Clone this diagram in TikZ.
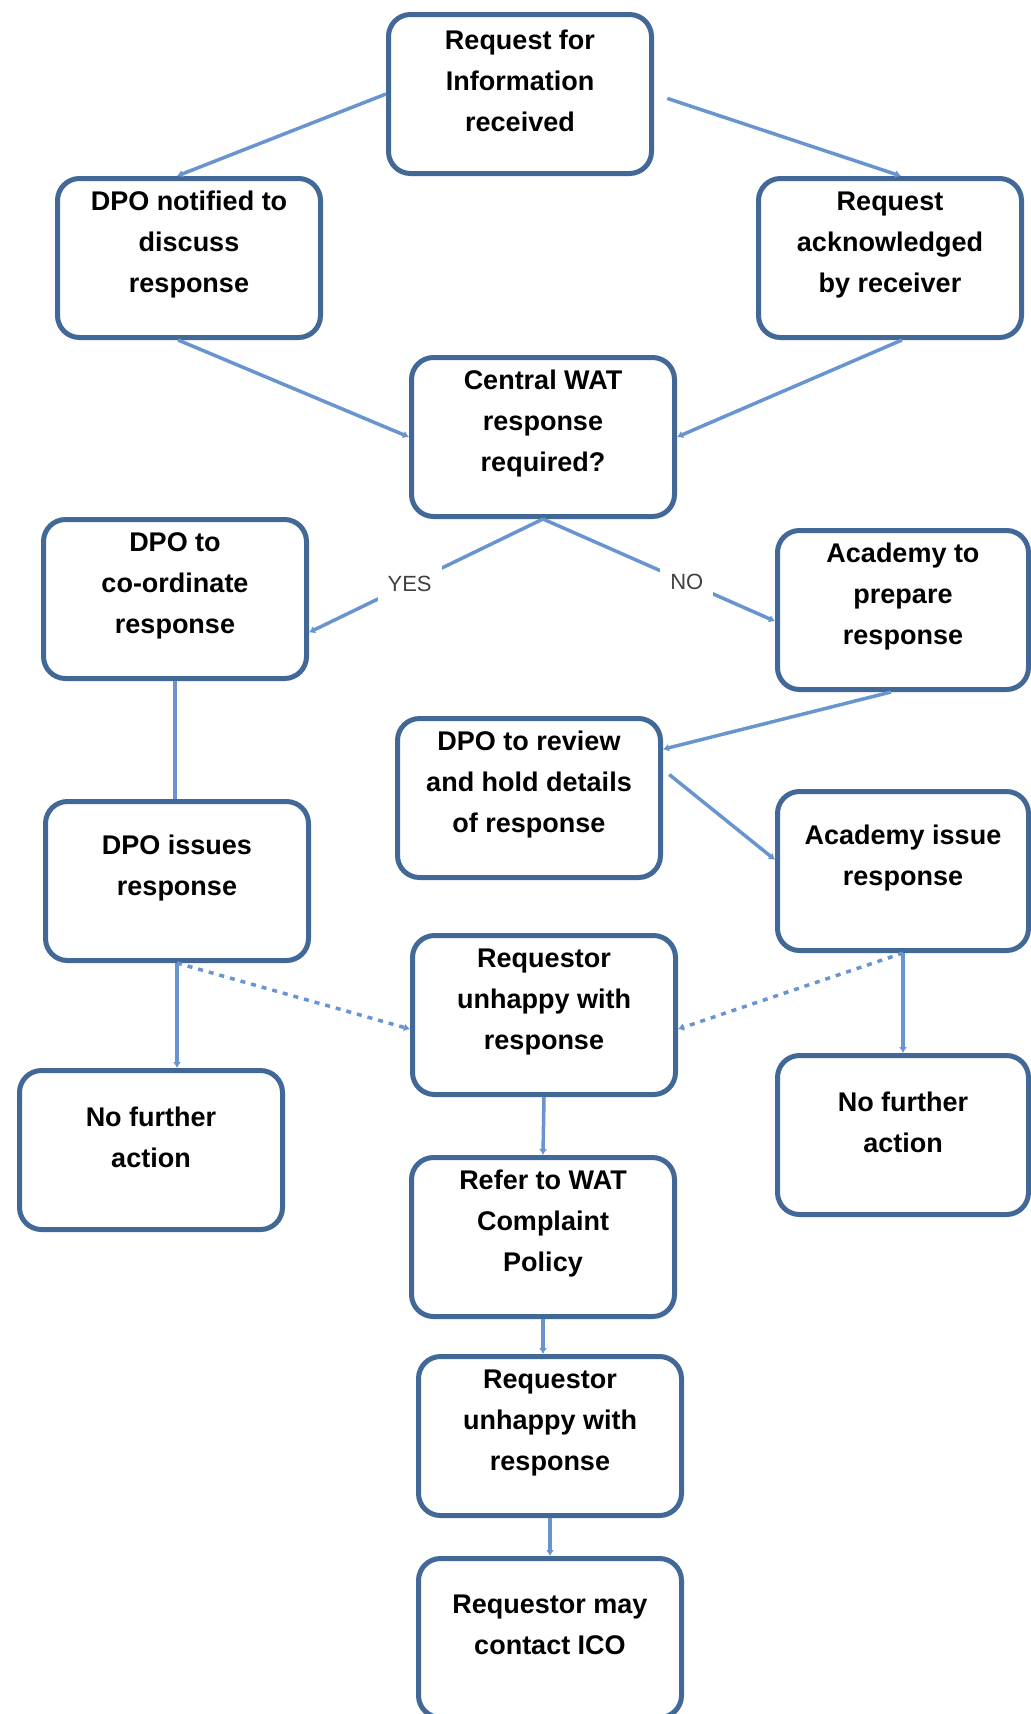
\documentclass[tikz,border=0pt]{standalone}
\usepackage{fontspec}
\setmainfont{Liberation Sans}
\usepackage{tikz}
\usetikzlibrary{arrows.meta}

\definecolor{boxblue}{RGB}{66,104,152}
\definecolor{lineblue}{RGB}{104,148,208}

\begin{document}
\begin{tikzpicture}[x=1pt, y=-1pt,
    steptext/.style={yshift=13pt, align=center, text=black,
        font=\fontsize{27}{41}\selectfont\bfseries},
    stepbox/.style={draw=boxblue, line width=5pt, rounded corners=22pt, fill=white,
        minimum width=263pt, minimum height=159pt, label={[steptext]center:#1}},
    narrowbox/.style={stepbox={#1}, minimum width=251pt},
    conn/.style={draw=lineblue, line width=3.5pt, -{Latex[length=6pt,width=8pt]}},
    plainconn/.style={draw=lineblue, line width=3.5pt},
    dotconn/.style={conn, dash pattern=on 5pt off 6pt},
    decision/.style={fill=white, inner sep=10pt, text=black!75,
        font=\fontsize{22}{22}\selectfont}]
    \useasboundingbox (0, 0) rectangle (1031, 1714);

    % Request
    \node[stepbox={Request for\\Information\\received}] (n1) at (520, 94) {};
    \node[stepbox={DPO notified to\\discuss\\response}] (n2) at (189, 258) {};
    \node[stepbox={Request\\acknowledged\\by receiver}] (n3) at (890, 258) {};

    % Decision
    \node[stepbox={Central WAT\\response\\required?}] (n4) at (543, 437) {};
    \node[stepbox={DPO to\\co-ordinate\\response}] (n5) at (175, 599) {};
    \node[narrowbox={Academy to\\prepare\\response}] (n6) at (903, 610) {};

    % Response
    \node[stepbox={DPO to review\\and hold details\\of response}] (n7) at (529, 798) {};
    \node[stepbox={DPO issues\\response}] (n8) at (177, 881) {};
    \node[narrowbox={Academy issue\\response}] (n9) at (903, 871) {};
    \node[stepbox={Requestor\\unhappy with\\response}] (n10) at (544, 1015) {};
    \node[stepbox={No further\\action}] (n11) at (151, 1150) {};
    \node[narrowbox={No further\\action}] (n12) at (903, 1135) {};

    % Complaint
    \node[stepbox={Refer to WAT\\Complaint\\Policy}] (n13) at (543, 1237) {};
    \node[stepbox={Requestor\\unhappy with\\response}] (n14) at (550, 1436) {};
    \node[stepbox={Requestor may\\contact ICO}] (n15) at (550, 1638) {};

    \draw[conn] (n1.west) -- ([xshift=-12pt]n2.north);
    \draw[conn, shorten <=14pt] (n1.east) -- ([xshift=11pt]n3.north);
    \draw[conn] ([xshift=-11pt]n2.south) -- (n4.west);
    \draw[conn] ([xshift=12pt]n3.south) -- (n4.east);
    \draw[conn] (n4.south) -- node[decision, pos=0.57] (yes) {YES} (n5.-14);
    \draw[conn] (n4.south) -- node[decision, pos=0.62] (no) {NO} (n6.185);
    \draw[conn] ([xshift=-12pt]n6.south) -- (n7.20);
    \draw[conn, shorten <=8pt] (n7.12) -- (n9.175);
    \draw[plainconn] (n5.south) -- (n5.south |- n8.north);
    \draw[conn] (n8.south) -- (n8.south |- n11.north);
    \draw[dotconn] (n8.south) -- (n10.186);
    \draw[dotconn] (n9.south) -- (n10.-6);
    \draw[conn] (n9.south) -- (n12.north);
    \draw[conn] (n10.south) -- (n13.north);
    \draw[conn] (n13.south) -- (n13.south |- n14.north);
    \draw[conn] (n14.south) -- (n15.north);
\end{tikzpicture}
\end{document}
